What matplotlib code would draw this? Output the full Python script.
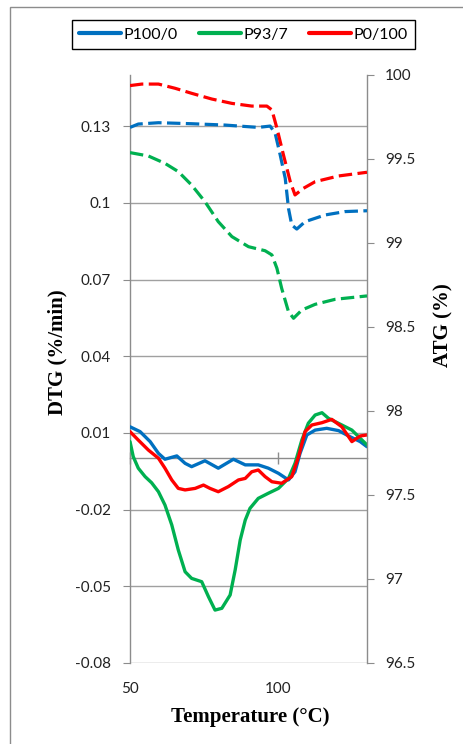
import matplotlib
matplotlib.use("Agg")
import matplotlib.pyplot as plt
from matplotlib.patches import Rectangle

plt.rcParams['axes.unicode_minus'] = False

# ---------------- data ----------------
series_names = ["P100/0", "P93/7", "P0/100"]
colors = ["#0070C0", "#00B050", "#FF0000"]

# DTG (left axis, solid lines)
dtg_blue_T = [50, 53.4, 56.8, 59.6, 61.8, 65.8, 68.6, 70.8, 75.3, 79.8, 84.9, 88.9, 93.3, 96.7, 100.1, 103.5,
              105.7, 107.4, 109.7, 112.5, 116.4, 120.4, 124.3, 127.7, 130]
dtg_blue_v = [0.0124, 0.0105, 0.0066, 0.0020, -0.0003, 0.0010, -0.0019, -0.0032, -0.0009, -0.0038, -0.0003,
              -0.0025, -0.0025, -0.0038, -0.0058, -0.0084, -0.0052, 0.0020, 0.0092, 0.0111, 0.0118, 0.0109,
              0.0085, 0.0066, 0.0046]

dtg_green_T = [50, 51.1, 52.8, 55.1, 57.3, 59.6, 61.8, 64.1, 66.3, 68.6, 70.8, 74.2, 76.5, 78.7, 81, 83.8,
               85.5, 87.2, 88.9, 90.5, 93.3, 96.7, 100.1, 103.5, 105.7, 108, 110.2, 112.5, 114.8, 117,
               121.5, 124.9, 127.7, 130]
dtg_green_v = [0.0066, 0.0007, -0.0038, -0.0071, -0.0095, -0.0130, -0.0182, -0.0260, -0.0358, -0.0443,
               -0.0469, -0.0482, -0.0541, -0.0593, -0.0586, -0.0534, -0.0436, -0.0319, -0.0241, -0.0195,
               -0.0156, -0.0136, -0.0117, -0.0078, -0.0019, 0.0072, 0.0138, 0.0170, 0.0179, 0.0157,
               0.0131, 0.0111, 0.0079, 0.0053]

dtg_red_T = [50, 52.8, 56.2, 59.6, 61.8, 64.1, 66.3, 68.6, 72, 74.8, 77, 79.8, 83.2, 86.6, 88.9, 91.1, 93.3,
             95.6, 97.9, 101.2, 104.6, 106.9, 109.1, 111.4, 114.8, 118.1, 121.5, 124.9, 127.7, 130]
dtg_red_v = [0.0105, 0.0072, 0.0033, 0.0001, -0.0038, -0.0084, -0.0117, -0.0123, -0.0117, -0.0104, -0.0117,
             -0.0130, -0.0110, -0.0084, -0.0078, -0.0052, -0.0045, -0.0071, -0.0091, -0.0097, -0.0071,
             0.0007, 0.0105, 0.0131, 0.0140, 0.0153, 0.0124, 0.0066, 0.0088, 0.0092]

# ATG (right axis, dashed lines)
atg_blue_T = [50, 52.8, 59.6, 70.8, 82.1, 93.3, 97.3, 99, 100.7, 102.4, 103.5, 104.6, 106.3, 109.1, 115.9,
              122.6, 130]
atg_blue_v = [99.688, 99.708, 99.716, 99.710, 99.702, 99.688, 99.696, 99.653, 99.524, 99.385, 99.206,
              99.107, 99.083, 99.127, 99.167, 99.187, 99.192]

atg_green_T = [50, 56.2, 61.8, 66.3, 70.8, 75.3, 79.8, 84.4, 90, 95.6, 97.9, 99.6, 101.2, 103.5, 105.2,
               108, 112.5, 119.3, 130]
atg_green_v = [99.538, 99.518, 99.474, 99.425, 99.345, 99.246, 99.127, 99.038, 98.978, 98.954, 98.929,
               98.849, 98.730, 98.591, 98.552, 98.601, 98.635, 98.665, 98.685]

atg_red_T = [50, 54, 59.6, 65.2, 70.8, 77.6, 84.4, 91.1, 96.2, 97.9, 99.6, 101.8, 104.1, 105.7, 108.5,
             112.5, 120.4, 130]
atg_red_v = [99.937, 99.946, 99.946, 99.921, 99.891, 99.857, 99.831, 99.815, 99.815, 99.792, 99.683,
             99.524, 99.365, 99.286, 99.325, 99.365, 99.399, 99.421]

x_ticks = [50, 100]
x_tick_labels = ["50", "100"]
left_ticks = [-0.08, -0.05, -0.02, 0.01, 0.04, 0.07, 0.10, 0.13]
left_tick_labels = ["-0.08", "-0.05", "-0.02", "0.01", "0.04", "0.07", "0.1", "0.13"]
right_ticks = [96.5, 97, 97.5, 98, 98.5, 99, 99.5, 100]
right_tick_labels = ["96.5", "97", "97.5", "98", "98.5", "99", "99.5", "100"]

# ---------------- figure ----------------
W, H = 464, 744
fig = plt.figure(figsize=(W / 100, H / 100), dpi=100)

# outer chart-area border
fig.patches.append(Rectangle((10 / W, -0.05), 1.2, 1 - 7 / H + 0.05, transform=fig.transFigure,
                             fill=False, edgecolor="#8c8c8c", linewidth=1.0))

L, R, T, B = 130, 367, 75, 663
ax = fig.add_axes([L / W, 1 - B / H, (R - L) / W, (B - T) / H])
ax2 = ax.twinx()

tick_font = "Lato"
axis_gray = "#8c8c8c"
grid_gray = "#a0a0a0"

# solid DTG
dtg = [(dtg_blue_T, dtg_blue_v), (dtg_green_T, dtg_green_v), (dtg_red_T, dtg_red_v)]
handles = []
for (t, v), c, n in zip(dtg, colors, series_names):
    h, = ax.plot(t, v, color=c, lw=2.4, solid_joinstyle="round", solid_capstyle="round", label=n, zorder=3)
    handles.append(h)

# dashed ATG
atg = [(atg_blue_T, atg_blue_v), (atg_green_T, atg_green_v), (atg_red_T, atg_red_v)]
for (t, v), c in zip(atg, colors):
    ax2.plot(t, v, color=c, lw=2.3, linestyle=(0, (4.2, 1.7)), dash_capstyle="butt",
             dash_joinstyle="round", zorder=3)

ax.set_xlim(50, 130)
ax.set_ylim(-0.08, 0.15)
ax2.set_ylim(96.5, 100)

ax.set_yticks(left_ticks)
ax.set_yticklabels(left_tick_labels, fontfamily=tick_font, fontsize=11)
ax2.set_yticks(right_ticks)
ax2.set_yticklabels(right_tick_labels, fontfamily=tick_font, fontsize=11)
ax.set_xticks(x_ticks)
ax.set_xticklabels(x_tick_labels, fontfamily=tick_font, fontsize=11)

ax.yaxis.grid(True, color=grid_gray, lw=1.0)
ax.set_axisbelow(True)

for a in (ax, ax2):
    for s in a.spines.values():
        s.set_color(axis_gray)
        s.set_linewidth(1.0)
    a.spines["top"].set_visible(False)
    a.patch.set_visible(False)
ax.spines["right"].set_visible(False)
ax.spines["bottom"].set_visible(False)
ax2.spines["left"].set_visible(False)
ax2.spines["bottom"].set_visible(False)

ax.tick_params(axis="y", direction="out", length=5, color=axis_gray, pad=9, labelcolor="#222222")
ax2.tick_params(axis="y", direction="out", length=5, color=axis_gray, pad=8, labelcolor="#222222")
ax.tick_params(axis="x", length=0, pad=14, labelcolor="#222222")

# horizontal axis crossing at DTG = 0
zero_pos = (0 - (-0.08)) / (0.15 - (-0.08))
sec = ax.secondary_xaxis(zero_pos)
sec.set_xticks(x_ticks)
sec.set_xticklabels([])
sec.tick_params(direction="inout", length=8, color=axis_gray, width=1.0)
sec.spines["bottom"].set_color(axis_gray)
sec.spines["bottom"].set_linewidth(1.0)

# axis titles
fig.text(250 / W, 1 - 717 / H, "Temperature (°C)", ha="center", va="center",
         fontfamily="Liberation Serif", fontweight="bold", fontsize=15)
fig.text(57 / W, 1 - 352 / H, "DTG (%/min)", ha="center", va="center", rotation=90,
         fontfamily="Liberation Serif", fontweight="bold", fontsize=15)
fig.text(443 / W, 1 - 325 / H, "ATG (%)", ha="center", va="center", rotation=90,
         fontfamily="Liberation Serif", fontweight="bold", fontsize=15)

leg = fig.legend(handles=handles, loc="center", bbox_to_anchor=(243.5 / W, 1 - 34.5 / H), ncol=3,
                 frameon=True, fancybox=False, edgecolor="black", framealpha=1,
                 prop={"family": tick_font, "size": 11.5}, handlelength=2.6, handletextpad=0.15,
                 columnspacing=1.35, borderpad=0.45)
leg.get_frame().set_linewidth(1.0)
for lh in leg.get_lines():
    lh.set_linewidth(3)

fig.savefig("out.png", dpi=100)
